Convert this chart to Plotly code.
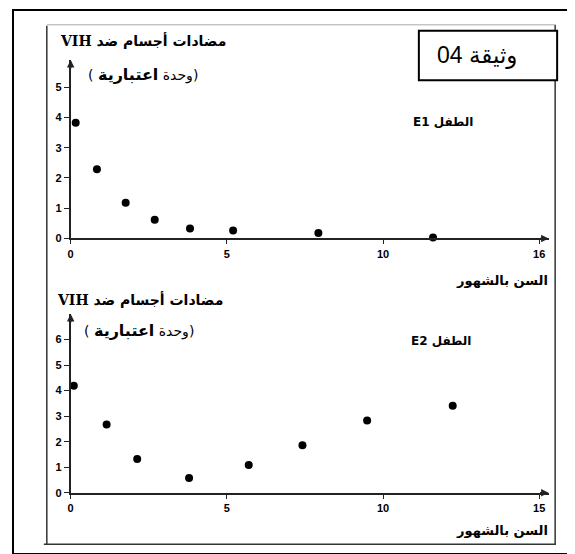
import plotly.graph_objects as go

W, H = 575, 554

# ---- data ----
age_e1 = [0.16, 0.84, 1.76, 2.69, 3.82, 5.2, 7.93, 11.6]
ab_e1 = [3.82, 2.29, 1.18, 0.62, 0.33, 0.26, 0.18, 0.03]
age_e2 = [0.1, 1.15, 2.13, 3.79, 5.7, 7.42, 9.49, 12.23]
ab_e2 = [4.19, 2.67, 1.32, 0.58, 1.09, 1.86, 2.83, 3.41]

x_ticks = [0, 5, 10, 15]
x_ticklabels_top = ["0", "5", "10", "16"]
x_ticklabels_bot = ["0", "5", "10", "15"]
y_ticks_top = [0, 1, 2, 3, 4, 5]
y_ticks_bot = [0, 1, 2, 3, 4, 5, 6]

RLE, PDF = "\u202B", "\u202C"
y_title_1 = "مضادات أجسام ضد VIH"
y_title_2 = "(وحدة <b><span style='font-size:16px'>اعتبارية</span></b> )"
x_title = "السن بالشهور"
label_e1 = "الطفل E1"
label_e2 = "الطفل E2"
doc_label = "وثيقة 04"


def px(x):
    return x / W


def py(y):
    return 1 - y / H


X0, XUNIT = 60, 31.4
X_END = 15.3
xdom = [px(X0), px(X0 + X_END * XUNIT)]

TOP_Y0, TOP_UNIT, TOP_END = 233, 30.6, 5.9
BOT_Y0, BOT_UNIT, BOT_END = 490, 25.8, 7.0

fig = go.Figure()
fig.add_trace(go.Scatter(x=age_e1, y=ab_e1, mode="markers", xaxis="x", yaxis="y",
                         marker=dict(color="black", size=8), cliponaxis=False,
                         showlegend=False))
fig.add_trace(go.Scatter(x=age_e2, y=ab_e2, mode="markers", xaxis="x2", yaxis="y2",
                         marker=dict(color="black", size=8), cliponaxis=False,
                         showlegend=False))

tickfont = dict(family="Liberation Sans", size=11, color="black", weight="bold")
common_x = dict(range=[0, X_END], domain=xdom, showgrid=False, zeroline=False,
                showline=True, linecolor="#222", linewidth=2, ticks="outside",
                ticklen=4, tickcolor="#222", tickvals=x_ticks, tickfont=tickfont,
                fixedrange=True)
common_y = dict(showgrid=False, zeroline=False, showline=True, linecolor="#222",
                linewidth=1.5, ticks="outside", ticklen=5, tickcolor="#222",
                tickfont=tickfont, fixedrange=True)

fig.update_layout(
    width=W, height=H, margin=dict(l=0, r=0, t=0, b=0),
    paper_bgcolor="white", plot_bgcolor="white",
    xaxis=dict(common_x, ticktext=x_ticklabels_top, anchor="y"),
    yaxis=dict(common_y, range=[0, TOP_END], tickvals=y_ticks_top, anchor="x",
               domain=[py(TOP_Y0), py(TOP_Y0 - TOP_END * TOP_UNIT)]),
    xaxis2=dict(common_x, ticktext=x_ticklabels_bot, anchor="y2"),
    yaxis2=dict(common_y, range=[0, BOT_END], tickvals=y_ticks_bot, anchor="x2",
                domain=[py(BOT_Y0), py(BOT_Y0 - BOT_END * BOT_UNIT)]),
)

# frames
shapes = [
    dict(type="rect", xref="paper", yref="paper", x0=px(2), x1=px(573), y0=py(552), y1=py(2),
         line=dict(color="black", width=2)),
    dict(type="line", xref="paper", yref="paper", x0=px(36), x1=px(36), y0=py(18), y1=py(543),
         line=dict(color="#333", width=1.5)),
    dict(type="line", xref="paper", yref="paper", x0=px(547), x1=px(547), y0=py(17), y1=py(543),
         line=dict(color="#333", width=1.5)),
    dict(type="line", xref="paper", yref="paper", x0=px(36), x1=px(547), y0=py(17), y1=py(17),
         line=dict(color="#aaa", width=1)),
    dict(type="line", xref="paper", yref="paper", x0=px(33), x1=px(547), y0=py(542), y1=py(542),
         line=dict(color="#333", width=1.5)),
    dict(type="rect", xref="paper", yref="paper", x0=px(410), x1=px(549), y0=py(73), y1=py(23),
         line=dict(color="black", width=2), fillcolor="white"),
]
fig.update_layout(shapes=shapes)

ann = []


def text(x, y, s, size, bold=False, family="DejaVu Sans"):
    ann.append(dict(xref="paper", yref="paper", x=px(x), y=py(y), text=RLE + s + PDF,
                    showarrow=False, xanchor="center", yanchor="middle",
                    font=dict(family=family, size=size, color="black",
                              weight="bold" if bold else "normal")))


text(133, 33, y_title_1, 14, bold=True, family="DejaVu Serif, DejaVu Sans")
text(133, 67, y_title_2, 14)
text(434, 115, label_e1, 12, bold=True)
text(494, 275, x_title, 13, bold=True)
text(130, 295, y_title_1, 14, bold=True, family="DejaVu Serif, DejaVu Sans")
text(129, 326, y_title_2, 14)
text(432, 337, label_e2, 12, bold=True)
text(494, 528, x_title, 13, bold=True)
text(468, 48, doc_label, 23, family="Liberation Sans, DejaVu Sans")

# axis arrows
for xa, ya, yend in [("x", "y", TOP_END), ("x2", "y2", BOT_END)]:
    ann.append(dict(xref=xa, yref=ya, x=X_END, y=0, ax=-10, ay=0, text="", showarrow=True,
                    arrowhead=2, arrowsize=1, arrowwidth=1.5, arrowcolor="#222"))
    ann.append(dict(xref=xa, yref=ya, x=0, y=yend, ax=0, ay=10, text="", showarrow=True,
                    arrowhead=2, arrowsize=1, arrowwidth=1.5, arrowcolor="#222"))

fig.update_layout(annotations=ann)
fig.write_html("out.html")
